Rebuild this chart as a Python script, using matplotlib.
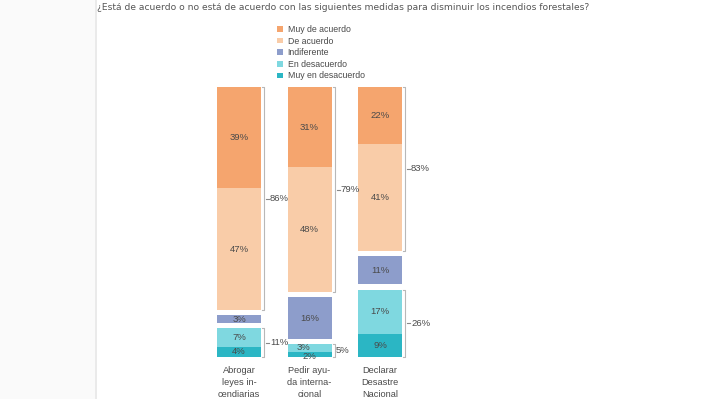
import matplotlib
matplotlib.use("Agg")
import matplotlib.pyplot as plt
from matplotlib.patches import Patch, Rectangle
from matplotlib.lines import Line2D
import numpy as np

plt.rcParams['font.family'] = ['Liberation Sans', 'DejaVu Sans']

title = "¿Está de acuerdo o no está de acuerdo con las siguientes medidas para disminuir los incendios forestales?"
categories = ["Abrogar\nleyes in-\ncendiarias", "Pedir ayu-\nda interna-\ncional", "Declarar\nDesastre\nNacional"]
series_names = ["Muy de acuerdo", "De acuerdo", "Indiferente", "En desacuerdo", "Muy en desacuerdo"]
muy_de_acuerdo = [39, 31, 22]
de_acuerdo = [47, 48, 41]
indiferente = [3, 16, 11]
en_desacuerdo = [7, 3, 17]
muy_en_desacuerdo = [4, 2, 9]
total_acuerdo = ["86%", "79%", "83%"]
total_desacuerdo = ["11%", "5%", "26%"]

colors = ["#F5A56E", "#F9CCA8", "#8D9DCB", "#7FD8E0", "#2BB6C4"]
txt = "#4a4a4a"
gap = 2.0

W, H = 720, 399
fig = plt.figure(figsize=(W / 100, H / 100), dpi=100)
fig.patch.set_facecolor("white")
fig.patches.append(Rectangle((0, 0), 95 / W, 1, transform=fig.transFigure, facecolor="#fafafa", edgecolor="none", zorder=0))
fig.add_artist(Line2D([95.5 / W, 95.5 / W], [0, 1], transform=fig.transFigure, color="#e6e6e6", lw=1.2))

px = 70.5
c0 = 239.0
ax = fig.add_axes([0, (H - 357) / H, 1, (357 - 87) / H])
ax.set_xlim(-c0 / px, (W - c0) / px)
ax.set_ylim(0, 100 + 2 * gap)
ax.axis("off")

x = np.arange(len(categories))
w = 44 / px
mad = np.array(muy_de_acuerdo, float)
da = np.array(de_acuerdo, float)
ind = np.array(indiferente, float)
ed = np.array(en_desacuerdo, float)
med = np.array(muy_en_desacuerdo, float)

b_med = np.zeros(3)
b_ed = med
b_ind = med + ed + gap
b_da = b_ind + ind + gap
b_mad = b_da + da

fs = 6.8
segs = [(mad, b_mad), (da, b_da), (ind, b_ind), (ed, b_ed), (med, b_med)]
for (vals, bot), col, name in zip(segs, colors, series_names):
    ax.bar(x, vals, bottom=bot, width=w, color=col, edgecolor="none", label=name)
    for i in range(3):
        dx, dy = 0, 0
        if i == 1 and name == "En desacuerdo":
            dx, dy = -0.09, 0.3
        if i == 1 and name == "Muy en desacuerdo":
            dy = -0.8
        ax.text(x[i] + dx, bot[i] + vals[i] / 2 + dy, f"{int(vals[i])}%", ha="center", va="center",
                fontsize=fs, color=txt)

bx_off = w / 2 + 3 / px
cap = 2 / px
def bracket(i, y0, y1, label, dash=True):
    xb = x[i] + bx_off
    ax.plot([xb - cap, xb, xb, xb - cap], [y0, y0, y1, y1], color="#b8b8b8", lw=0.8, clip_on=False)
    ym = (y0 + y1) / 2
    if dash:
        ax.plot([xb + 2 / px, xb + 5 / px], [ym, ym], color="#888888", lw=0.8, clip_on=False)
        ax.text(xb + 6 / px, ym, label, ha="left", va="center", fontsize=fs, color=txt)
    else:
        ax.text(xb + 1 / px, ym, label, ha="left", va="center", fontsize=fs, color=txt)

for i in range(3):
    bracket(i, b_da[i], b_mad[i] + mad[i], total_acuerdo[i])
    bracket(i, 0, ed[i] + med[i], total_desacuerdo[i], dash=(i != 1))

for i in range(3):
    ax.annotate(categories[i], xy=(x[i], 0), xycoords="data", xytext=(0, -9), textcoords="offset pixels",
                ha="center", va="top", fontsize=6.7, color=txt, linespacing=1.45, annotation_clip=False)

fig.text(97 / W, 1 - 7 / H, title, ha="left", va="center", fontsize=6.6, color="#555555",
         family=['DejaVu Sans'])

handles = [Patch(facecolor=c, edgecolor="none") for c in colors]
leg = fig.legend(handles, series_names, loc="upper left", bbox_to_anchor=(277 / W, 1 - 25 / H),
                 frameon=False, fontsize=6.3, handlelength=0.65, handleheight=0.65, handletextpad=0.55,
                 labelspacing=0.3, borderpad=0.0, borderaxespad=0)
for t in leg.get_texts():
    t.set_color(txt)

fig.savefig("out.png", dpi=100)
